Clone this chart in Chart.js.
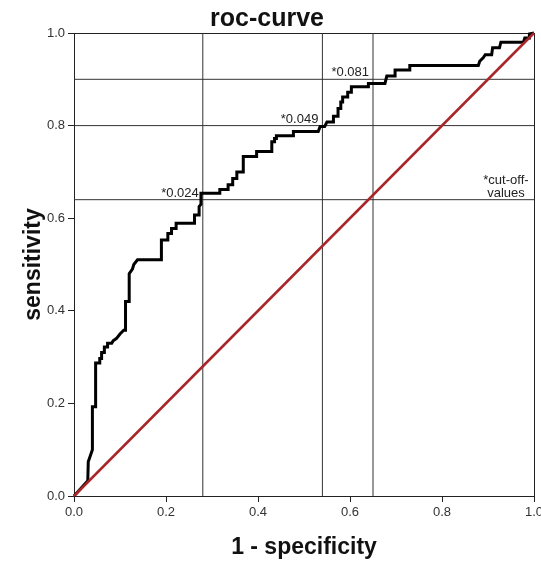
<!DOCTYPE html>
<html><head><meta charset="utf-8">
<script src="https://cdn.jsdelivr.net/npm/chart.js@4.4.0/dist/chart.umd.min.js"></script>
<style>html,body{margin:0;padding:0;background:#fff;overflow:hidden;}canvas{display:block;}</style>
</head><body>
<div style="width:541px;height:561px;position:relative;"><canvas id="c" width="541" height="561"></canvas></div>
<script>
// ROC curve coordinates (1 - specificity, sensitivity)
const rocFpr = [0,0.030,0.031,0.040,0.040,0.047,0.047,0.056,0.056,0.060,0.060,0.066,0.066,0.073,0.073,0.082,0.085,0.092,0.100,0.108,0.112,0.112,0.120,0.120,0.127,0.130,0.138,0.190,0.190,0.204,0.204,0.212,0.212,0.222,0.222,0.262,0.262,0.272,0.272,0.276,0.276,0.317,0.317,0.335,0.335,0.345,0.345,0.354,0.354,0.368,0.368,0.397,0.397,0.430,0.430,0.436,0.436,0.440,0.440,0.477,0.477,0.531,0.535,0.545,0.550,0.564,0.564,0.574,0.574,0.580,0.580,0.584,0.584,0.595,0.595,0.603,0.603,0.640,0.640,0.676,0.680,0.698,0.698,0.730,0.730,0.879,0.882,0.890,0.894,0.908,0.910,0.925,0.928,0.977,0.980,0.990,0.990,1.000];
const rocTpr = [0,0.033,0.074,0.100,0.193,0.193,0.287,0.287,0.297,0.297,0.310,0.310,0.322,0.322,0.330,0.330,0.335,0.340,0.350,0.358,0.358,0.420,0.420,0.480,0.490,0.500,0.510,0.510,0.553,0.553,0.567,0.567,0.578,0.578,0.589,0.589,0.607,0.607,0.625,0.630,0.654,0.654,0.662,0.662,0.672,0.672,0.686,0.686,0.700,0.700,0.733,0.733,0.744,0.744,0.765,0.765,0.772,0.772,0.778,0.778,0.787,0.787,0.798,0.798,0.808,0.808,0.820,0.820,0.837,0.837,0.851,0.851,0.862,0.862,0.872,0.872,0.884,0.884,0.891,0.891,0.907,0.907,0.920,0.920,0.930,0.930,0.939,0.947,0.953,0.953,0.968,0.968,0.980,0.980,0.989,0.989,0.998,1.000];
// Reference (chance) diagonal
const diagX = [0, 1];
const diagY = [0, 1];
// Cut-off reference lines: vertical at 1-specificity, horizontal at sensitivity
const cutoffFpr = [0.28, 0.54, 0.65];
const cutoffTpr = [0.64, 0.80, 0.90];
const cutoffLabels = ['*0.024', '*0.049', '*0.081'];
const noteLines = ['*cut-off-', 'values'];
const tickValues = [0, 0.2, 0.4, 0.6, 0.8, 1.0];

const FONT = "'Liberation Sans', Arial, sans-serif";

const datasets = [];
datasets.push({
  data: diagX.map((x, i) => ({x, y: diagY[i]})),
  borderColor: '#a8262a', borderWidth: 2.5, pointRadius: 0, showLine: true, clip: false
});
datasets.push({
  data: rocFpr.map((x, i) => ({x, y: rocTpr[i]})),
  borderColor: '#000', borderWidth: 3, pointRadius: 0, showLine: true, clip: false,
  borderJoinStyle: 'miter'
});
cutoffFpr.forEach(v => datasets.push({
  data: [{x: v, y: 0}, {x: v, y: 1}],
  borderColor: '#333', borderWidth: 1, pointRadius: 0, showLine: true
}));
cutoffTpr.forEach(v => datasets.push({
  data: [{x: 0, y: v}, {x: 1, y: v}],
  borderColor: '#333', borderWidth: 1, pointRadius: 0, showLine: true
}));

const framePlugin = {
  id: 'frame',
  beforeDatasetsDraw(chart) {
    const {ctx, chartArea: a} = chart;
    ctx.save();
    ctx.strokeStyle = '#222';
    ctx.lineWidth = 1;
    ctx.strokeRect(Math.round(a.left) + 0.5, Math.round(a.top) + 0.5, Math.round(a.right - a.left), Math.round(a.bottom - a.top));
    ctx.restore();
  },
  afterDatasetsDraw(chart) {
    const {ctx, scales: {x, y}} = chart;
    ctx.save();
    ctx.font = '13px ' + FONT;
    ctx.fillStyle = '#222';
    ctx.textAlign = 'right';
    ctx.textBaseline = 'alphabetic';
    cutoffLabels.forEach((t, i) => {
      ctx.fillText(t, x.getPixelForValue(cutoffFpr[i]) - 4, y.getPixelForValue(cutoffTpr[i]) - 3);
    });
    ctx.textAlign = 'center';
    const nx = x.getPixelForValue(0.939);
    const ny = y.getPixelForValue(cutoffTpr[0]);
    ctx.fillText(noteLines[0], nx, ny - 16);
    ctx.fillText(noteLines[1], nx, ny - 3);
    ctx.restore();
  }
};

new Chart(document.getElementById('c'), {
  type: 'scatter',
  data: {datasets},
  plugins: [framePlugin],
  options: {
    responsive: false,
    animation: false,
    events: [],
    layout: {padding: {left: 0, right: 7, top: 0, bottom: 0}},
    plugins: {
      legend: {display: false},
      tooltip: {enabled: false},
      title: {
        display: true, text: 'roc-curve', color: '#111',
        font: {family: FONT, size: 25, weight: 'bold', lineHeight: 1.08},
        padding: {top: 6, bottom: 0}
      }
    },
    scales: {
      x: {
        type: 'linear', min: 0, max: 1,
        afterBuildTicks(s) { s.ticks = tickValues.map(v => ({value: v})); },
        ticks: {callback: v => v.toFixed(1), font: {family: FONT, size: 13}, color: '#333', padding: 3, maxRotation: 0, autoSkip: false},
        grid: {drawOnChartArea: false, drawTicks: true, tickLength: 6, tickColor: '#222', color: '#222'},
        border: {display: true, color: '#222', width: 1},
        title: {display: true, text: '1 - specificity', color: '#111', font: {family: FONT, size: 23, weight: 'bold'}, padding: {top: 0, bottom: 0}},
        afterFit(s) { s.paddingLeft = 0; s.paddingRight = 0; s.height = 65; }
      },
      y: {
        type: 'linear', min: 0, max: 1,
        afterBuildTicks(s) { s.ticks = tickValues.map(v => ({value: v})); },
        ticks: {callback: v => v.toFixed(1), font: {family: FONT, size: 13}, color: '#333', padding: 3, autoSkip: false},
        grid: {drawOnChartArea: false, drawTicks: true, tickLength: 6, tickColor: '#222', color: '#222'},
        border: {display: true, color: '#222', width: 1},
        title: {display: true, text: 'sensitivity', color: '#111', font: {family: FONT, size: 23, weight: 'bold'}, padding: {top: 20, bottom: 0}},
        afterFit(s) { s.paddingTop = 0; s.paddingBottom = 0; s.width = 74; }
      }
    }
  }
});
</script>
</body></html>
